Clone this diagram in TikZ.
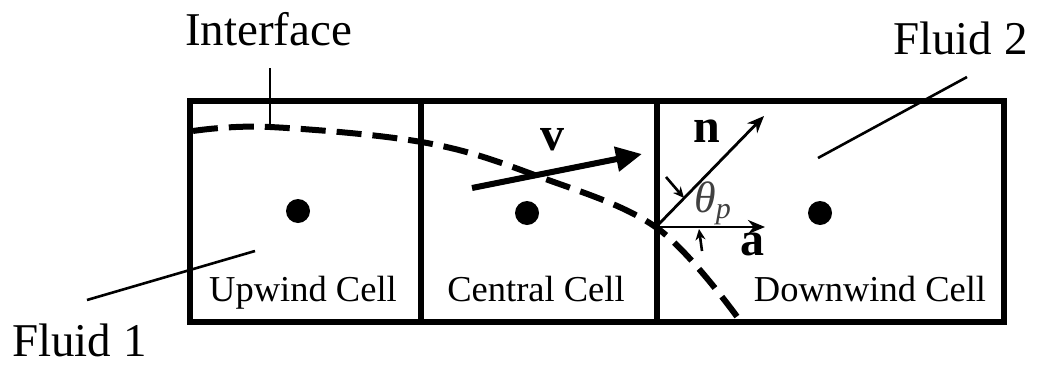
\documentclass[tikz,border=0pt]{standalone}
\usepackage{fontspec}
\setmainfont{Liberation Serif}
\usetikzlibrary{arrows.meta}
\begin{document}
\begin{tikzpicture}[x=1pt,y=-1pt,
  cellline/.style={line width=5.5pt,line cap=rect},
  leader/.style={line width=2.6pt},
  dotmark/.style={circle,fill=black,inner sep=0pt,minimum size=24pt},
  biglabel/.style={font=\fontsize{47}{50}\selectfont,inner sep=0pt},
  celllabel/.style={font=\fontsize{36.5}{40}\selectfont,inner sep=0pt},
  vec/.style={font=\fontsize{48}{50}\selectfont\bfseries,inner sep=0pt},
  interface/.style={line width=6pt,dash pattern=on 25pt off 11pt},
  thinvec/.style={line width=2.8pt,-{Stealth[length=17pt,width=14pt]}},
  anglemark/.style={line width=2.6pt,-{Stealth[length=11pt,width=10pt]}}]
\useasboundingbox (0,0) rectangle (1046,367);
% cells
\draw[cellline] (190,101) rectangle (1004,322);
\draw[cellline] (421,101) -- (421,322);
\draw[cellline] (657,101) -- (657,322);
% interface
\draw[interface] plot[smooth,tension=0.6] coordinates {(193,131) (270,127) (427,143) (540,177) (657,228) (738,318)};
% cell centres
\node[dotmark] (d1) at (298,211) {};
\node[dotmark] (d2) at (527,213) {};
\node[dotmark] (d3) at (820,213) {};
% cell labels
\node[celllabel,anchor=base] (lu) at (303,301) {Upwind Cell};
\node[celllabel,anchor=base] (lc) at (536,301) {Central Cell};
\node[celllabel,anchor=base] (ld) at (870,301) {Downwind Cell};
% outside labels
\node[biglabel,anchor=base west] (tif) at (185,45) {Interface};
\node[biglabel,anchor=base west] (tf1) at (12,356) {Fluid 1};
\node[biglabel,anchor=base west] (tf2) at (893,54) {Fluid 2};
% leaders
\coordinate (if1) at (270,68);
\coordinate (if2) at (270,127);
\draw[leader] (if1) -- (if2);
\coordinate (f1a) at (87,300);
\coordinate (f1b) at (255,251);
\draw[leader] (f1a) -- (f1b);
\coordinate (f2a) at (818,158);
\coordinate (f2b) at (967,77);
\draw[leader] (f2a) -- (f2b);
% velocity
\coordinate (v1) at (472,188);
\coordinate (v2) at (642,154);
\draw[line width=6pt,-{Triangle[length=26pt,width=24pt]}] (v1) -- (v2);
\node[vec] (lv) at (552,140) {v};
% normal and a
\coordinate (O) at (656,227);
\coordinate (nend) at (764,116);
\coordinate (aend) at (765,227);
\draw[thinvec] (O) -- (nend);
\draw[thinvec] (O) -- (aend);
\node[vec] (ln) at (707,131) {n};
\node[vec] (la) at (752,244) {a};
\node[inner sep=0pt,text=black!75,anchor=base west] (lt) at (694,212) {\fontsize{44}{46}\selectfont\itshape θ\raisebox{-6pt}{\fontsize{30}{32}\selectfont p}};
% angle marks
\coordinate (m1a) at (666,177);
\coordinate (m1b) at (684,198);
\draw[anglemark] (m1a) -- (m1b);
\coordinate (m2a) at (702,251);
\coordinate (m2b) at (699,229);
\draw[anglemark] (m2a) -- (m2b);
\end{tikzpicture}
\end{document}
